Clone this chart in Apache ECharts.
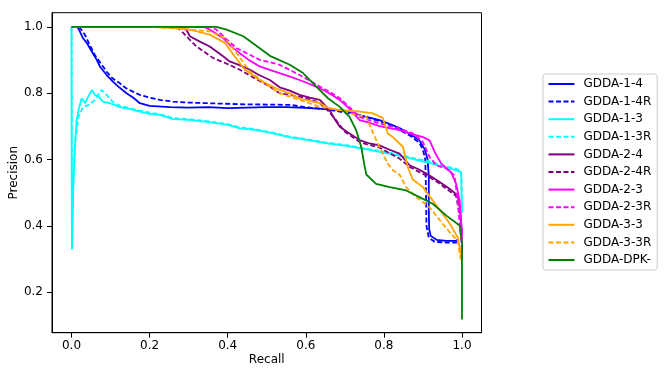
<!DOCTYPE html>
<html><head><meta charset="utf-8">
<script src="https://cdn.jsdelivr.net/npm/echarts@6/dist/echarts.min.js"></script>
<style>html,body{margin:0;padding:0;background:#fff}#c{width:665px;height:378px}</style>
</head><body><div id="c"></div>
<script>
const seriesNames = ['GDDA-1-4','GDDA-1-4R','GDDA-1-3','GDDA-1-3R','GDDA-2-4','GDDA-2-4R','GDDA-2-3','GDDA-2-3R','GDDA-3-3','GDDA-3-3R','GDDA-DPK-'];
const tickValues = [0.0, 0.2, 0.4, 0.6, 0.8, 1.0];
const yTickValues = [0.2, 0.4, 0.6, 0.8, 1.0];

const gdda14 = [[0,1.0],[0.015,1.0],[0.02,0.99],[0.03,0.965],[0.04,0.95],[0.055,0.92],[0.065,0.9],[0.073,0.88],[0.09,0.855],[0.106,0.835],[0.12,0.82],[0.141,0.8],[0.16,0.785],[0.175,0.77],[0.2,0.762],[0.252,0.758],[0.3,0.757],[0.35,0.758],[0.4,0.755],[0.45,0.757],[0.5,0.758],[0.55,0.758],[0.6,0.756],[0.65,0.752],[0.687,0.749],[0.72,0.74],[0.75,0.73],[0.789,0.719],[0.82,0.705],[0.84,0.695],[0.87,0.675],[0.891,0.658],[0.905,0.63],[0.912,0.6],[0.915,0.55],[0.915,0.45],[0.916,0.39],[0.92,0.37],[0.935,0.358],[0.96,0.355],[0.985,0.355],[0.99,0.36]];
const gdda14R = [[0,1.0],[0.02,1.0],[0.026,0.99],[0.035,0.975],[0.045,0.95],[0.06,0.915],[0.075,0.89],[0.09,0.865],[0.105,0.845],[0.124,0.83],[0.14,0.815],[0.157,0.805],[0.175,0.795],[0.2,0.787],[0.226,0.78],[0.26,0.775],[0.3,0.772],[0.35,0.77],[0.43,0.767],[0.5,0.766],[0.56,0.765],[0.6,0.758],[0.65,0.752],[0.7,0.742],[0.75,0.73],[0.8,0.712],[0.84,0.69],[0.87,0.67],[0.891,0.65],[0.9,0.63],[0.906,0.6],[0.908,0.5],[0.909,0.4],[0.915,0.365],[0.93,0.352],[0.96,0.35],[0.985,0.35],[0.99,0.355]];
const gdda13 = [[0,1.0],[0.001,0.33],[0.004,0.5],[0.008,0.62],[0.013,0.72],[0.02,0.76],[0.026,0.785],[0.035,0.77],[0.045,0.795],[0.052,0.81],[0.06,0.795],[0.07,0.79],[0.08,0.775],[0.098,0.77],[0.124,0.758],[0.15,0.752],[0.175,0.745],[0.2,0.738],[0.226,0.735],[0.26,0.722],[0.3,0.72],[0.346,0.714],[0.4,0.705],[0.431,0.694],[0.47,0.69],[0.516,0.679],[0.559,0.667],[0.6,0.66],[0.65,0.65],[0.7,0.642],[0.75,0.632],[0.789,0.623],[0.84,0.612],[0.88,0.6],[0.917,0.59],[0.95,0.578],[0.98,0.57],[0.998,0.562],[1.0,0.44]];
const gdda13R = [[0,1.0],[0.001,0.33],[0.005,0.55],[0.01,0.66],[0.018,0.73],[0.03,0.76],[0.045,0.765],[0.06,0.78],[0.077,0.81],[0.09,0.795],[0.105,0.775],[0.124,0.762],[0.15,0.755],[0.175,0.748],[0.2,0.742],[0.226,0.737],[0.26,0.725],[0.3,0.722],[0.346,0.716],[0.4,0.707],[0.431,0.697],[0.47,0.692],[0.516,0.681],[0.559,0.669],[0.6,0.662],[0.65,0.652],[0.7,0.644],[0.75,0.634],[0.789,0.626],[0.84,0.615],[0.88,0.603],[0.917,0.595],[0.95,0.582],[0.98,0.574],[0.998,0.566],[1.0,0.45]];
const gdda24 = [[0,1.0],[0.28,1.0],[0.295,0.99],[0.303,0.972],[0.33,0.955],[0.354,0.941],[0.389,0.911],[0.405,0.896],[0.43,0.885],[0.457,0.871],[0.48,0.855],[0.508,0.84],[0.533,0.818],[0.559,0.808],[0.584,0.795],[0.61,0.787],[0.636,0.78],[0.661,0.749],[0.675,0.72],[0.687,0.699],[0.71,0.68],[0.738,0.659],[0.76,0.65],[0.789,0.643],[0.81,0.632],[0.84,0.618],[0.866,0.583],[0.89,0.57],[0.917,0.552],[0.94,0.535],[0.968,0.512],[0.989,0.492],[0.995,0.45],[1.0,0.38]];
const gdda24R = [[0,1.0],[0.27,1.0],[0.286,0.982],[0.3,0.965],[0.32,0.941],[0.34,0.925],[0.363,0.906],[0.4,0.888],[0.431,0.871],[0.47,0.845],[0.508,0.82],[0.533,0.8],[0.56,0.795],[0.584,0.79],[0.61,0.782],[0.636,0.77],[0.655,0.75],[0.674,0.724],[0.7,0.684],[0.72,0.668],[0.738,0.653],[0.76,0.645],[0.789,0.636],[0.81,0.622],[0.84,0.603],[0.866,0.578],[0.89,0.563],[0.917,0.547],[0.94,0.53],[0.968,0.505],[0.985,0.49],[0.993,0.44],[1.0,0.36]];
const gdda23 = [[0,1.0],[0.34,1.0],[0.354,0.992],[0.388,0.967],[0.41,0.94],[0.431,0.921],[0.455,0.9],[0.482,0.881],[0.51,0.87],[0.533,0.861],[0.56,0.85],[0.584,0.84],[0.61,0.828],[0.636,0.815],[0.66,0.8],[0.687,0.78],[0.71,0.755],[0.738,0.719],[0.76,0.712],[0.789,0.701],[0.84,0.689],[0.866,0.679],[0.9,0.668],[0.917,0.658],[0.93,0.623],[0.947,0.588],[0.972,0.562],[0.985,0.527],[0.994,0.477],[1.0,0.376],[1.0,0.3]];
const gdda23R = [[0,1.0],[0.355,1.0],[0.371,0.992],[0.395,0.965],[0.423,0.936],[0.45,0.92],[0.482,0.901],[0.51,0.893],[0.533,0.886],[0.56,0.87],[0.584,0.855],[0.61,0.838],[0.636,0.82],[0.66,0.805],[0.687,0.785],[0.71,0.76],[0.738,0.729],[0.76,0.72],[0.789,0.709],[0.84,0.694],[0.874,0.679],[0.9,0.653],[0.917,0.608],[0.934,0.583],[0.96,0.573],[0.981,0.552],[0.989,0.477],[1.0,0.33]];
const gdda33 = [[0,1.0],[0.2,1.0],[0.25,0.998],[0.3,0.993],[0.354,0.977],[0.393,0.952],[0.418,0.911],[0.444,0.871],[0.482,0.84],[0.533,0.81],[0.559,0.8],[0.584,0.784],[0.61,0.777],[0.636,0.77],[0.66,0.755],[0.687,0.749],[0.738,0.745],[0.77,0.74],[0.797,0.726],[0.81,0.679],[0.823,0.668],[0.849,0.638],[0.861,0.578],[0.874,0.54],[0.9,0.517],[0.925,0.477],[0.951,0.436],[0.972,0.401],[0.989,0.365],[1.0,0.3]];
const gdda33R = [[0,1.0],[0.2,1.0],[0.25,0.997],[0.3,0.992],[0.354,0.987],[0.393,0.966],[0.423,0.921],[0.457,0.866],[0.495,0.83],[0.533,0.8],[0.559,0.79],[0.584,0.78],[0.636,0.759],[0.687,0.749],[0.73,0.734],[0.755,0.73],[0.765,0.7],[0.776,0.67],[0.793,0.628],[0.81,0.588],[0.823,0.568],[0.84,0.555],[0.857,0.517],[0.883,0.487],[0.917,0.456],[0.951,0.406],[0.972,0.376],[0.989,0.355],[0.996,0.305],[1.0,0.29]];
const gddaDPK = [[0,1.0],[0.371,1.0],[0.397,0.992],[0.44,0.972],[0.482,0.936],[0.508,0.913],[0.559,0.886],[0.593,0.861],[0.627,0.82],[0.657,0.785],[0.687,0.759],[0.712,0.729],[0.729,0.689],[0.742,0.638],[0.751,0.578],[0.755,0.555],[0.78,0.527],[0.815,0.517],[0.857,0.507],[0.891,0.487],[0.925,0.467],[0.96,0.431],[0.994,0.401],[1.0,0.35],[1.0,0.118]];

const allData = [gdda14, gdda14R, gdda13, gdda13R, gdda24, gdda24R, gdda23, gdda23R, gdda33, gdda33R, gddaDPK];
const colors = ['#0000ff','#0000ff','#00ffff','#00ffff','#800080','#800080','#ff00ff','#ff00ff','#ffa500','#ffa500','#008000'];
const dashed = [false,true,false,true,false,true,false,true,false,true,false];

const font = 'DejaVu Sans';
const chart = echarts.init(document.getElementById('c'), null, {renderer: 'canvas'});
const series = seriesNames.map((n, i) => ({
  name: n, type: 'line', data: allData[i], showSymbol: false, symbol: 'none',
  animation: false, silent: true,
  lineStyle: {color: colors[i], width: 1.8, type: dashed[i] ? [5, 2.5] : 'solid'},
  itemStyle: {color: colors[i]}
}));
chart.setOption({
  animation: false,
  backgroundColor: '#ffffff',
  grid: {left: 52, right: 183.5, top: 12.7, bottom: 45.3, show: true, borderColor: '#000', borderWidth: 1, containLabel: false, outerBoundsMode: 'none'},
  legend: {
    orient: 'vertical', left: 543, top: 74,
    data: seriesNames,
    itemWidth: 26, itemHeight: 10, itemGap: 5.6,
    padding: [4, 6, 4, 4.5],
    itemStyle: {opacity: 0, borderWidth: 0},
    borderColor: '#cccccc', borderWidth: 1, borderRadius: 3, backgroundColor: '#fff',
    textStyle: {fontFamily: font, fontSize: 12, lineHeight: 12, color: '#000', padding: [0, 0, 0, 4]}
  },
  xAxis: {
    type: 'value', min: -0.05, max: 1.05,
    name: 'Recall', nameLocation: 'middle', nameGap: 21, nameMoveOverlap: false,
    nameTextStyle: {fontFamily: font, fontSize: 12, color: '#000'},
    axisLine: {show: true, onZero: false, lineStyle: {color: '#000', width: 1}},
    axisTick: {show: true, length: 5, customValues: tickValues, lineStyle: {color: '#000'}},
    axisLabel: {customValues: tickValues, fontFamily: font, fontSize: 12, color: '#000', margin: 7, formatter: v => v.toFixed(1)},
    splitLine: {show: false}
  },
  yAxis: {
    type: 'value', min: 0.078, max: 1.043,
    name: 'Precision', nameLocation: 'middle', nameGap: 32, nameMoveOverlap: false,
    nameTextStyle: {fontFamily: font, fontSize: 12, color: '#000'},
    axisLine: {show: true, onZero: false, lineStyle: {color: '#000', width: 1}},
    axisTick: {show: true, length: 5, customValues: yTickValues, lineStyle: {color: '#000'}},
    axisLabel: {customValues: yTickValues, fontFamily: font, fontSize: 12, color: '#000', margin: 9, formatter: v => v.toFixed(1)},
    splitLine: {show: false}
  },
  series: series
});
</script></body></html>
